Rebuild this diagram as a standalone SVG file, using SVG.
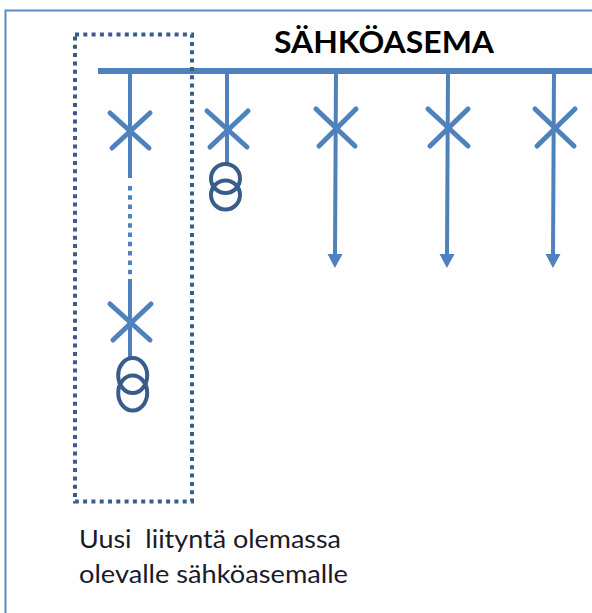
<svg xmlns="http://www.w3.org/2000/svg" width="592" height="613" viewBox="0 0 592 613">
<style>
text{font-family:"Lato","Liberation Sans",sans-serif;fill:#1a1a2a;white-space:pre}
.title{font-size:30px;font-weight:bold;fill:#000}
.label{font-size:25px}
.line{stroke:#4f81bd;stroke-width:4;fill:none}
.x{stroke:#4f81bd;stroke-width:5;fill:none;stroke-linecap:round}
.tr{stroke:#385d8a;stroke-width:4;fill:none}
</style>
<defs>
<marker id="arrow" markerUnits="userSpaceOnUse" markerWidth="15" markerHeight="16" refX="1" refY="8" orient="auto"><path d="M0 0.500L14 8L0 15.500Z" fill="#4f81bd"/></marker>
</defs>
<rect width="592" height="613" fill="#fff"/>
<path id="frame" d="M592 10.500H5.500V613" fill="none" stroke="#5b8ac6" stroke-width="2"/>
<g id="connectors">
<path class="line" d="M98 71H592" style="stroke-width:6"/>
<path class="line" d="M130 71V178"/>
<path class="line" d="M130 186V280" style="stroke-dasharray:4.500 4.800"/>
<path class="line" d="M130 280V358"/>
<path class="line" d="M227 71V164"/>
<path class="line" d="M336 71L335 255" marker-end="url(#arrow)"/>
<path class="line" d="M448 71L447 255" marker-end="url(#arrow)"/>
<path class="line" d="M554 71L553 255" marker-end="url(#arrow)"/>
</g>
<g id="region"><rect x="75" y="34.500" width="117" height="467" fill="none" stroke="#385d8a" stroke-width="4" stroke-dasharray="4 4.300"/></g>
<g id="breaker-1"><path class="x" d="M110 113L149 148M112 148L150 113"/></g>
<g id="breaker-2"><path class="x" d="M207 111L247 147M210 147L248 111"/></g>
<g id="breaker-3"><path class="x" d="M316 109L355 146M319 146L356 109"/></g>
<g id="breaker-4"><path class="x" d="M428 109L468 146M430 146L468 109"/></g>
<g id="breaker-5"><path class="x" d="M535 109L574 146M537 146L575 109"/></g>
<g id="breaker-6"><path class="x" d="M110 304L150 340M113 340L151 304"/></g>
<g id="transformer-1"><ellipse class="tr" cx="225.500" cy="178.500" rx="14.500" ry="14.500"/><ellipse class="tr" cx="225.500" cy="195" rx="14.500" ry="14.500"/></g>
<g id="transformer-2"><ellipse class="tr" cx="132.700" cy="375.500" rx="14.500" ry="17.500"/><ellipse class="tr" cx="132.700" cy="393" rx="14.500" ry="17.500"/></g>
<g id="title"><text class="title" x="274" y="53" textLength="220" lengthAdjust="spacingAndGlyphs">SÄHKÖASEMA</text></g>
<g id="note">
<text class="label" x="79" y="548" textLength="262" lengthAdjust="spacingAndGlyphs">Uusi  liityntä olemassa</text>
<text class="label" x="79" y="583" textLength="269" lengthAdjust="spacingAndGlyphs">olevalle sähköasemalle</text>
</g>
</svg>
